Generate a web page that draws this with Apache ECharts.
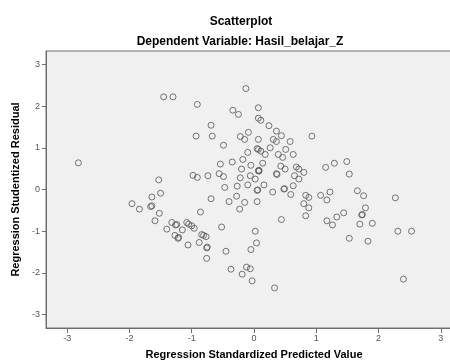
<!DOCTYPE html>
<html>
<head>
<meta charset="utf-8">
<script src="https://cdn.jsdelivr.net/npm/echarts@6/dist/echarts.min.js"></script>
<style>
  html, body { margin: 0; padding: 0; background: #fff; }
  #chart { width: 450px; height: 361px; }
</style>
</head>
<body>
<div id="chart"></div>
<script>
// Regression Standardized Predicted Value (x) vs Studentized Residual (y)
const predicted = [
  -2.82, -1.45, -1.30, -0.91, -0.13, -0.34, -0.25, -0.69, -0.93, -0.67,
  -0.22, -0.15, -0.09, -0.49, -0.10, -0.18, -0.35, -0.54, -0.20, -0.05,
  -0.98, -0.91, -0.74, -0.56, -0.49, -0.22, -0.06, -1.53, -0.47, -0.27,
  -0.10, -0.28, -0.40, -0.15, -0.23, -0.69, -1.64, -1.50, -1.96, -1.84,
  -1.66, -1.64, -1.52, -1.59, -0.86, -1.32, -1.26, -1.24, -1.40, -1.15,
  -1.08, -1.05, -1.00, -0.96, -1.27, -1.22, -1.21, -1.06, -0.88, -0.84,
  -0.81, -0.77, -0.76, -0.75, -0.76, -0.52, -0.45, -0.37, -0.19, -0.12,
  -0.06, -0.05, -0.03, 0.33, 0.04, 0.02, 0.44, 0.05, 0.02, 0.08,
  0.36, 0.37, 0.16, 0.05, 0.06, 0.30, 0.48, 0.49, 0.59, 0.63,
  0.65, 0.72, 0.80, 0.83, 0.88, 0.80, 0.88, 0.83, 1.07, 1.17,
  1.22, 1.17, 1.26, 1.33, 1.44, 1.53, 1.53, 1.66, 1.76, 1.79,
  1.73, 1.74, 1.70, 1.90, 1.83, 2.27, 2.31, 2.53, 2.40, 0.07,
  0.07, 0.11, 0.24, 0.36, 0.44, 0.07, 0.31, 0.36, 0.58, 0.93,
  0.05, 0.07, 0.11, 0.18, 0.26, 0.51, 0.39, 0.46, 0.63, 0.14,
  0.07, 0.08, 0.43, 0.50, 0.68, 0.72, 1.15, 1.29, 1.49
];
const residual = [
  0.64, 2.22, 2.22, 2.04, 2.42, 1.90, 1.80, 1.54, 1.28, 1.28,
  1.27, 1.20, 1.37, 1.06, 0.89, 0.72, 0.66, 0.61, 0.49, 0.58,
  0.34, 0.29, 0.33, 0.38, 0.31, 0.28, 0.33, 0.23, 0.05, 0.08,
  0.11, -0.16, -0.29, -0.31, -0.47, -0.22, -0.18, -0.09, -0.34, -0.47,
  -0.41, -0.39, -0.57, -0.75, -0.54, -0.79, -0.85, -0.84, -0.95, -0.97,
  -0.79, -0.83, -0.87, -0.93, -1.10, -1.17, -1.15, -1.33, -1.27, -1.08,
  -1.10, -1.13, -1.40, -1.38, -1.65, -0.90, -1.48, -1.91, -2.03, -1.86,
  -1.90, -1.44, -2.19, -2.36, -1.28, -1.00, -0.72, -0.29, 0.25, 0.44,
  0.38, 0.36, 0.11, -0.02, -0.01, -0.06, 0.01, 0.02, -0.12, 0.09,
  0.33, 0.25, 0.41, -0.14, -0.19, -0.34, -0.44, -0.63, -0.14, -0.25,
  -0.06, -0.75, -0.85, -0.66, -0.56, -1.17, 0.37, -0.03, -0.15, -0.44,
  -0.61, -0.60, -0.83, -0.81, -1.24, -0.20, -1.00, -1.00, -2.15, 1.96,
  1.71, 1.66, 1.53, 1.40, 1.29, 1.20, 1.20, 1.15, 1.15, 1.28,
  0.98, 0.96, 0.92, 0.84, 1.00, 0.96, 0.84, 0.77, 0.84, 0.63,
  0.45, 0.46, 0.56, 0.49, 0.54, 0.49, 0.53, 0.63, 0.67
];
const tickValues = [-3, -2, -1, 0, 1, 2, 3];

const points = predicted.map((x, i) => [x, residual[i]]);

const font = 'Liberation Sans, Arial, sans-serif';

let option = {
    animation: false,
    title: [
        {
            text: 'Scatterplot',
            left: 236, top: 11, textAlign: 'center',
            textStyle: { fontFamily: font, fontSize: 12, fontWeight: 'bold', color: '#000' }
        },
        {
            text: 'Dependent Variable: Hasil_belajar_Z',
            left: 235, top: 31, textAlign: 'center',
            textStyle: { fontFamily: font, fontSize: 12, fontWeight: 'bold', color: '#000' }
        }
    ],
    grid: {
        left: 46, top: 51, width: 416, height: 277,
        outerBoundsMode: 'none',
        containLabel: false,
        show: true,
        backgroundColor: '#f0f0f0',
        borderColor: '#6e6e6e',
        borderWidth: 1
    },
    xAxis: {
        type: 'value',
        min: -3.34, max: 3.34,
        name: 'Regression Standardized Predicted Value',
        nameLocation: 'middle',
        nameGap: 21,
        nameTextStyle: { fontFamily: font, fontSize: 11, fontWeight: 'bold', color: '#000' },
        axisLine: { onZero: false, lineStyle: { color: '#6e6e6e' } },
        axisTick: { show: true, length: 5, customValues: tickValues, lineStyle: { color: '#6e6e6e' } },
        axisLabel: { customValues: tickValues, fontFamily: font, fontSize: 9, color: '#555', margin: 6 },
        splitLine: { show: false }
    },
    yAxis: {
        type: 'value',
        min: -3.32, max: 3.32,
        name: 'Regression Studentized Residual',
        nameLocation: 'middle',
        nameGap: 17,
        nameTextStyle: { fontFamily: font, fontSize: 11, fontWeight: 'bold', color: '#000' },
        axisLine: { onZero: false, lineStyle: { color: '#6e6e6e' } },
        axisTick: { show: true, length: 4, customValues: tickValues, lineStyle: { color: '#6e6e6e' } },
        axisLabel: { customValues: tickValues, fontFamily: font, fontSize: 9, color: '#555', margin: 6 },
        splitLine: { show: false }
    },
    series: [
        {
            type: 'scatter',
            symbol: 'circle',
            symbolSize: 6,
            itemStyle: { color: 'rgba(0,0,0,0)', borderColor: '#555', borderWidth: 1 },
            emphasis: { disabled: true },
            data: points
        }
    ]
};

let myChart = echarts.init(document.getElementById('chart'));
myChart.setOption(option);
</script>
</body>
</html>
